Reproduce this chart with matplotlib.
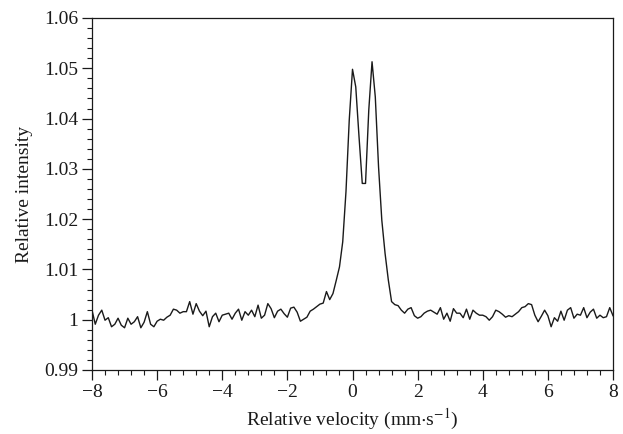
import matplotlib
matplotlib.use("Agg")
import matplotlib.pyplot as plt
from matplotlib.ticker import MultipleLocator, FuncFormatter

velocity = [
    -8.0, -7.9, -7.8, -7.7, -7.6, -7.5, -7.4, -7.3, -7.2, -7.1,
    -7.0, -6.9, -6.8, -6.7, -6.6, -6.5, -6.4, -6.3, -6.2, -6.1,
    -6.0, -5.9, -5.8, -5.7, -5.6, -5.5, -5.4, -5.3, -5.2, -5.1,
    -5.0, -4.9, -4.8, -4.7, -4.6, -4.5, -4.4, -4.3, -4.2, -4.1,
    -4.0, -3.9, -3.8, -3.7, -3.6, -3.5, -3.4, -3.3, -3.2, -3.1,
    -3.0, -2.9, -2.8, -2.7, -2.6, -2.5, -2.4, -2.3, -2.2, -2.1,
    -2.0, -1.9, -1.8, -1.7, -1.6, -1.5, -1.4, -1.3, -1.2, -1.1,
    -1.0, -0.9, -0.8, -0.7, -0.6, -0.5, -0.4, -0.3, -0.2, -0.1,
    0.0, 0.1, 0.2, 0.3, 0.4, 0.5, 0.6, 0.7, 0.8, 0.9,
    1.0, 1.1, 1.2, 1.3, 1.4, 1.5, 1.6, 1.7, 1.8, 1.9,
    2.0, 2.1, 2.2, 2.3, 2.4, 2.5, 2.6, 2.7, 2.8, 2.9,
    3.0, 3.1, 3.2, 3.3, 3.4, 3.5, 3.6, 3.7, 3.8, 3.9,
    4.0, 4.1, 4.2, 4.3, 4.4, 4.5, 4.6, 4.7, 4.8, 4.9,
    5.0, 5.1, 5.2, 5.3, 5.4, 5.5, 5.6, 5.7, 5.8, 5.9,
    6.0, 6.1, 6.2, 6.3, 6.4, 6.5, 6.6, 6.7, 6.8, 6.9,
    7.0, 7.1, 7.2, 7.3, 7.4, 7.5, 7.6, 7.7, 7.8, 7.9,
    8.0,
]

intensity = [
    1.0019, 0.9991, 1.0009, 1.0019, 0.9999, 1.0004, 0.9986, 0.9991, 1.0003, 0.9989,
    0.9984, 1.0003, 0.9991, 0.9996, 1.0006, 0.9984, 0.9995, 1.0016, 0.9991, 0.9986,
    0.9997, 1.0001, 0.9999, 1.0005, 1.0009, 1.0021, 1.0019, 1.0013, 1.0016, 1.0016,
    1.0036, 1.0011, 1.0032, 1.0017, 1.0008, 1.0017, 0.9986, 1.0006, 1.0013, 0.9996,
    1.0009, 1.0011, 1.0013, 1.0001, 1.0013, 1.0021, 0.9999, 1.0016, 1.0009, 1.0019,
    1.0006, 1.0029, 1.0003, 1.0009, 1.0032, 1.0022, 1.0004, 1.0017, 1.0021, 1.0012,
    1.0005, 1.0023, 1.0025, 1.0015, 0.9997, 1.0001, 1.0005, 1.0017, 1.0021, 1.0026,
    1.0031, 1.0033, 1.0056, 1.0040, 1.0052, 1.0078, 1.0105, 1.0155, 1.0255, 1.0397,
    1.0498, 1.0463, 1.0364, 1.0271, 1.0271, 1.0417, 1.0513, 1.0443, 1.0304, 1.0198,
    1.0132, 1.0079, 1.0036, 1.0030, 1.0028, 1.0019, 1.0013, 1.0021, 1.0024, 1.0008,
    1.0003, 1.0006, 1.0013, 1.0017, 1.0019, 1.0015, 1.0011, 1.0024, 1.0001, 1.0013,
    0.9997, 1.0022, 1.0013, 1.0013, 1.0004, 1.0021, 1.0001, 1.0019, 1.0013, 1.0009,
    1.0009, 1.0006, 0.9999, 1.0006, 1.0019, 1.0016, 1.0011, 1.0005, 1.0008, 1.0006,
    1.0011, 1.0016, 1.0024, 1.0026, 1.0032, 1.0030, 1.0009, 0.9996, 1.0007, 1.0019,
    1.0008, 0.9986, 1.0004, 0.9997, 1.0017, 0.9999, 1.0019, 1.0024, 1.0003, 1.0011,
    1.0009, 1.0024, 1.0004, 1.0015, 1.0021, 1.0003, 1.0009, 1.0004, 1.0006, 1.0024,
    1.0008,
]

x_ticks = [-8, -6, -4, -2, 0, 2, 4, 6, 8]
y_ticks = [0.99, 1.00, 1.01, 1.02, 1.03, 1.04, 1.05, 1.06]

plt.rcParams['font.family'] = ['Liberation Serif', 'DejaVu Serif']
plt.rcParams['mathtext.fontset'] = 'stix'

fig = plt.figure(figsize=(6.23, 4.34), dpi=100)
ax = fig.add_axes([92 / 623, 1 - 370 / 434, (613 - 92) / 623, (370 - 18) / 434])

ax.plot(velocity, intensity, color='#1a1a1a', linewidth=1.0)

ax.set_xlim(-8, 8)
ax.set_ylim(0.99, 1.06)
ax.set_xticks(x_ticks)
ax.set_yticks(y_ticks)
ax.xaxis.set_minor_locator(MultipleLocator(0.4))
ax.yaxis.set_minor_locator(MultipleLocator(0.002))


def xfmt(v, pos):
    s = '%d' % round(v)
    return s.replace('-', '\u2212')


def yfmt(v, pos):
    if abs(v - 1.0) < 1e-9:
        return '1'
    return '%.2f' % v


ax.xaxis.set_major_formatter(FuncFormatter(xfmt))
ax.yaxis.set_major_formatter(FuncFormatter(yfmt))

ax.tick_params(which='major', direction='out', length=7, width=0.9,
               labelsize=14, colors='#1a1a1a', pad=3)
ax.tick_params(which='minor', direction='out', length=3.5, width=0.8,
               colors='#1a1a1a')
for sp in ax.spines.values():
    sp.set_linewidth(0.9)
    sp.set_color('#1a1a1a')

ax.set_xlabel('Relative velocity (mm$\\cdot$s$^{-1}$)', fontsize=14,
              color='#1a1a1a', labelpad=4)
ax.set_ylabel('Relative intensity', fontsize=14, color='#1a1a1a',
              labelpad=8)

fig.savefig('out.png', dpi=100)
